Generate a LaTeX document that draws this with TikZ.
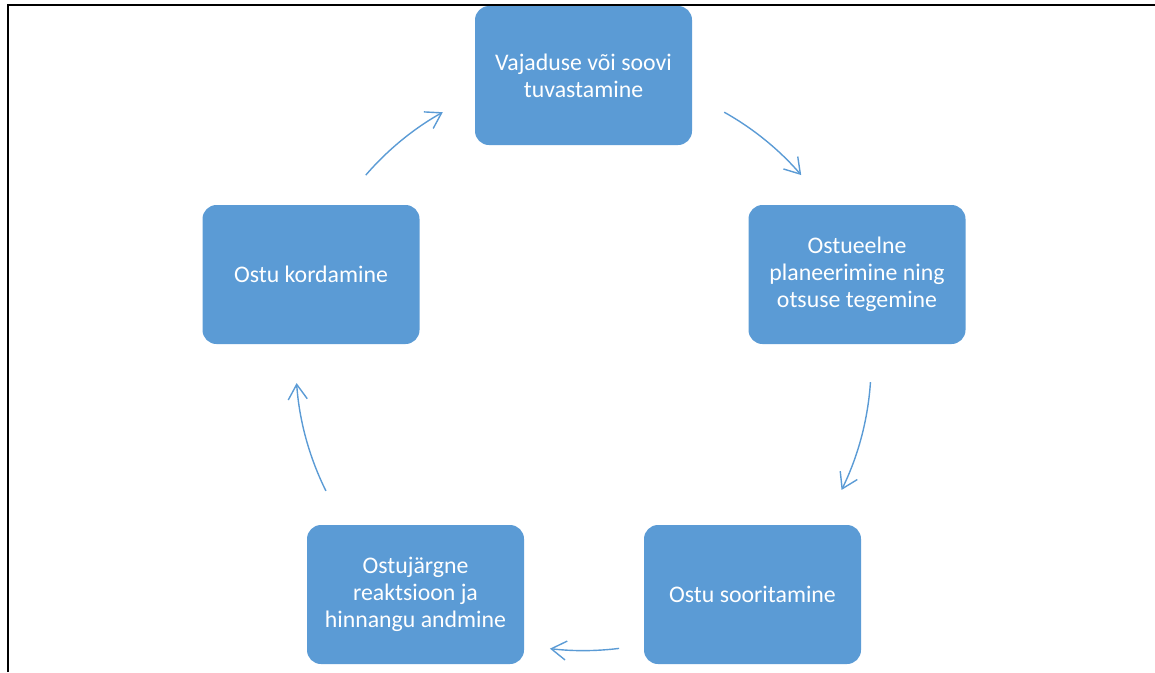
\documentclass[tikz,border=0pt]{standalone}
\usepackage{fontspec}
\setmainfont{Carlito}
\usetikzlibrary{arrows.meta,calc}
\definecolor{boxblue}{HTML}{5B9BD5}
\begin{document}
\begin{tikzpicture}[x=1pt,y=1pt,
  stagebox/.style={draw=none,fill=boxblue,rounded corners=14pt,minimum width=217pt,minimum height=139pt,
    align=center,text=white,font=\fontsize{23.8}{27}\selectfont,inner sep=0pt},
  cyc/.style={draw=boxblue,line width=1.4pt,-{Straight Barb[length=15pt,width=19pt,line width=1.4pt]}}]
\useasboundingbox (0,0) rectangle (1155,-672);
\draw[line width=2pt] (7.5,-672) -- (7.5,-4.5) -- (1155,-4.5);
\coordinate (C) at (583.5,-363);
\node[stagebox] (n1) at (583.5,-75.5) {Vajaduse või soovi\\tuvastamine};
\node[stagebox] (n2) at (857,-274.5) {Ostueelne\\planeerimine ning\\otsuse tegemine};
\node[stagebox] (n3) at (752.5,-594.5) {Ostu sooritamine};
\node[stagebox] (n4) at (415.5,-594.5) {Ostujärgne\\reaktsioon ja\\hinnangu andmine};
\node[stagebox] (n5) at (311,-274.5) {Ostu kordamine};
\def\R{287.6}
\draw[cyc] ($(C)+(60.7:\R)$) arc[start angle=60.7,end angle=40.8,radius=\R];
\draw[cyc] ($(C)+(-3.8:\R)$) arc[start angle=-3.8,end angle=-26.2,radius=\R];
\draw[cyc] ($(C)+(-82.9:\R)$) arc[start angle=-82.9,end angle=-96.7,radius=\R];
\draw[cyc] ($(C)+(206.4:\R)$) arc[start angle=206.4,end angle=184,radius=\R];
\draw[cyc] ($(C)+(139.2:\R)$) arc[start angle=139.2,end angle=119.3,radius=\R];
\end{tikzpicture}
\end{document}
